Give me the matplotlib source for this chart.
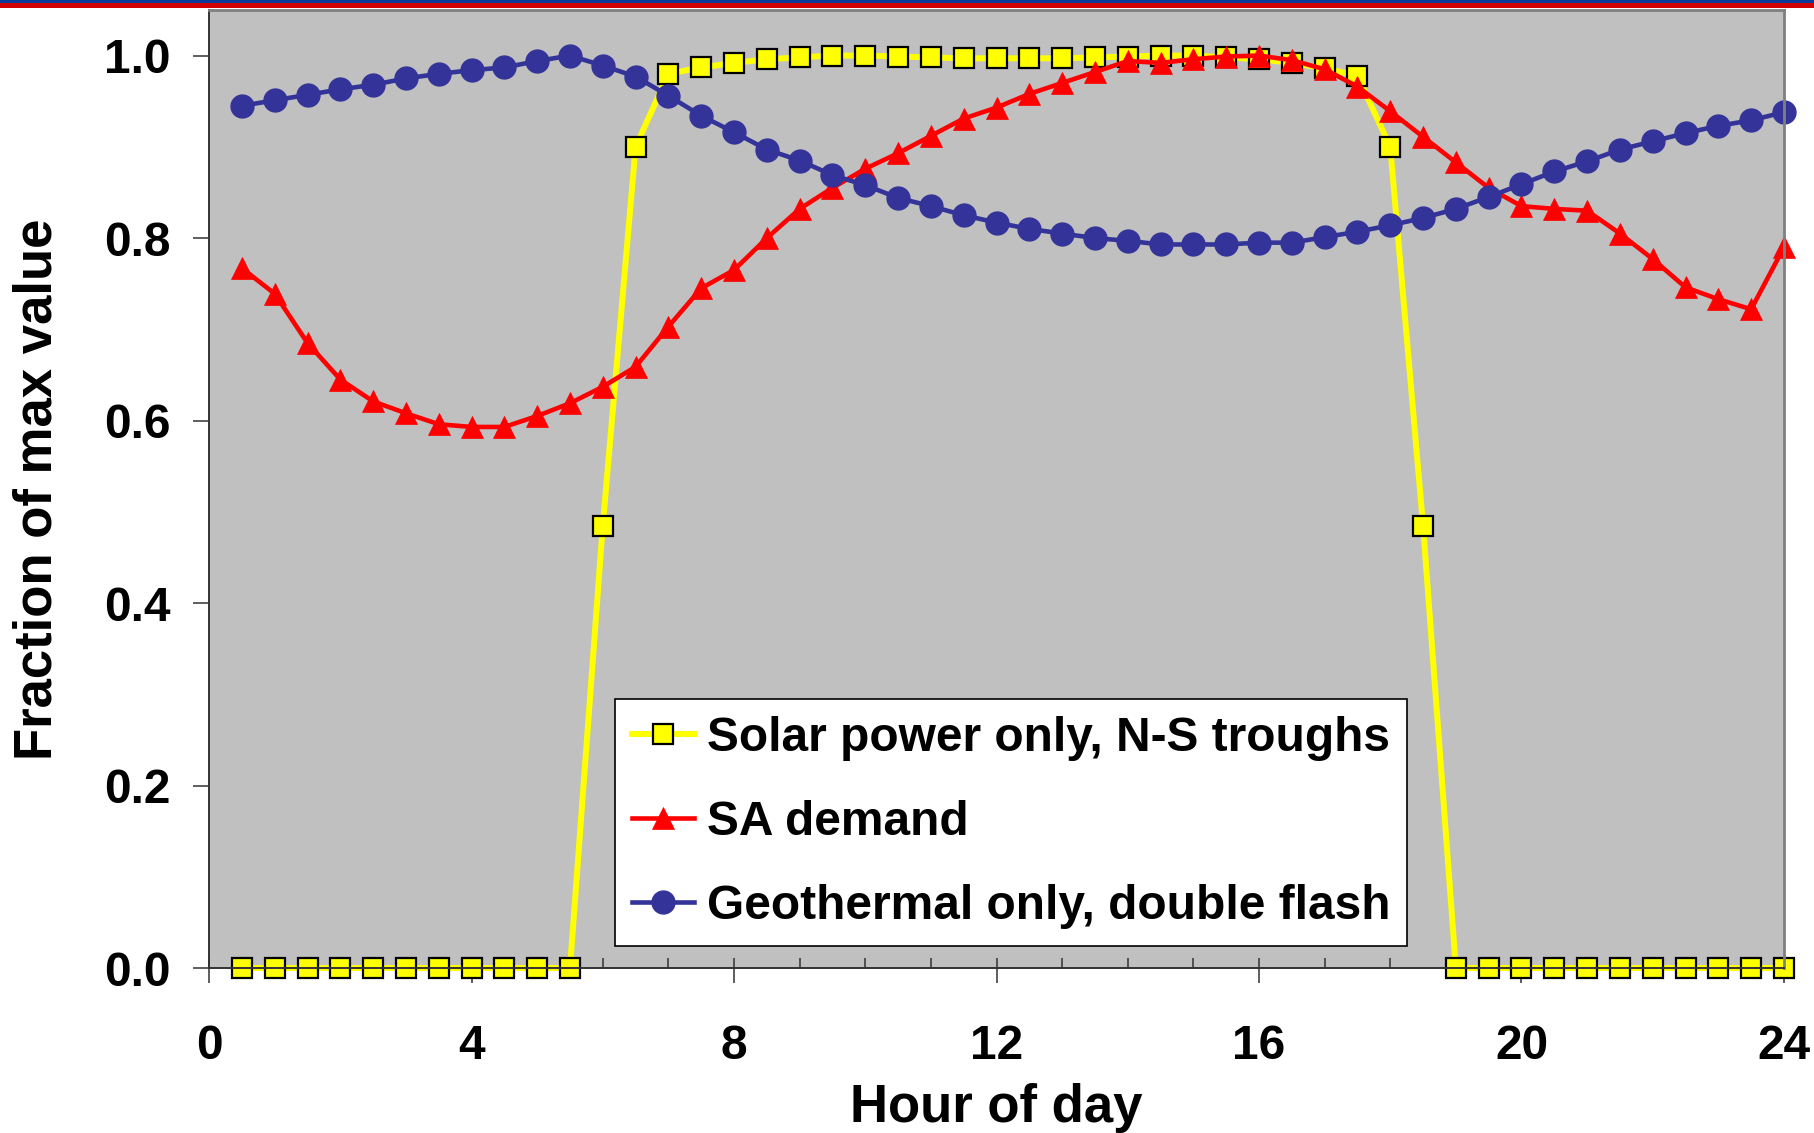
import matplotlib
matplotlib.use("Agg")
import matplotlib.pyplot as plt
from matplotlib.patches import Rectangle
from matplotlib.ticker import MultipleLocator, FormatStrFormatter

# half-hourly values, 0.5 .. 24.0
hours = [0.5 * (i + 1) for i in range(48)]

solar = [0, 0, 0, 0, 0, 0, 0, 0, 0, 0, 0,
         0.485, 0.90, 0.980, 0.987, 0.992, 0.996, 0.998, 1.0, 1.0, 0.999,
         0.998, 0.997, 0.997, 0.997, 0.997, 0.998, 0.999, 1.0, 1.0, 0.998,
         0.996, 0.992, 0.986, 0.978, 0.90, 0.485,
         0, 0, 0, 0, 0, 0, 0, 0, 0, 0, 0]

demand = [0.767, 0.739, 0.685, 0.645, 0.621, 0.608, 0.596, 0.593, 0.593, 0.605,
          0.619, 0.637, 0.659, 0.703, 0.745, 0.765, 0.800, 0.832, 0.855, 0.876,
          0.893, 0.912, 0.931, 0.943, 0.958, 0.970, 0.982, 0.994, 0.992, 0.996,
          0.999, 1.000, 0.995, 0.985, 0.966, 0.939, 0.911, 0.883, 0.855, 0.835,
          0.832, 0.830, 0.805, 0.777, 0.746, 0.733, 0.722, 0.790]

geo = [0.945, 0.951, 0.957, 0.963, 0.968, 0.975, 0.980, 0.984, 0.987, 0.994,
       1.000, 0.989, 0.977, 0.956, 0.934, 0.916, 0.897, 0.885, 0.869, 0.858,
       0.844, 0.835, 0.825, 0.817, 0.810, 0.805, 0.800, 0.797, 0.793, 0.793,
       0.793, 0.795, 0.795, 0.801, 0.807, 0.814, 0.822, 0.832, 0.845, 0.859,
       0.873, 0.884, 0.897, 0.906, 0.915, 0.923, 0.929, 0.938]

labels = ["Solar power only, N-S troughs", "SA demand", "Geothermal only, double flash"]

plt.rcParams["font.family"] = ["Liberation Sans", "DejaVu Sans"]
plt.rcParams["font.weight"] = "bold"

fig = plt.figure(figsize=(18.15, 11.33), dpi=100)
ax = fig.add_axes([0.1152, 0.1456, 0.8677, 0.8456])
ax.set_facecolor("#C0C0C0")

# header bands
fig.add_artist(Rectangle((0, 1 - 3 / 1133), 1, 3 / 1133, transform=fig.transFigure,
                         color="#0A3A9A", lw=0))
fig.add_artist(Rectangle((0, 1 - 8 / 1133), 1, 5 / 1133, transform=fig.transFigure,
                         color="#D00000", lw=0))

ax.plot(hours, solar, color="#FFFF00", lw=4.3, marker="s", ms=15,
        mfc="#FFFF00", mec="black", mew=1.6, clip_on=False, label=labels[0])
ax.plot(hours, demand, color="#FF0000", lw=3.3, marker="^", ms=16.5,
        mfc="#FF0000", mec="#FF0000", mew=0.5, clip_on=False, label=labels[1])
ax.plot(hours, geo, color="#333399", lw=3.3, marker="o", ms=16.5,
        mfc="#333399", mec="#333399", clip_on=False, label=labels[2])

ax.set_xlim(0, 24)
ax.set_ylim(0, 1.05)
ax.xaxis.set_major_locator(MultipleLocator(4))
ax.xaxis.set_minor_locator(MultipleLocator(1))
ax.xaxis.remove_overlapping_locs = False
ax.yaxis.set_major_locator(MultipleLocator(0.2))
ax.yaxis.set_major_formatter(FormatStrFormatter("%.1f"))

ax.tick_params(axis="x", which="major", direction="out", length=11, width=1.1,
               color="#333333", pad=29, labelsize=34.5)
ax.tick_params(axis="x", which="minor", direction="in", length=7, width=1.1,
               color="#333333")
ax.tick_params(axis="y", which="major", direction="out", length=11.5, width=1.1,
               color="#333333", pad=16, labelsize=34.5)

for s in ["top", "right"]:
    ax.spines[s].set_color("#808080")
    ax.spines[s].set_linewidth(2)
for s in ["left", "bottom"]:
    ax.spines[s].set_color("#333333")
    ax.spines[s].set_linewidth(1.4)

ax.set_xlabel("Hour of day", fontsize=38, fontweight="bold")
ax.set_ylabel("Fraction of max value", fontsize=38, fontweight="bold")
ax.xaxis.set_label_coords(0.5, -0.120)
ax.yaxis.set_label_coords(-0.093, 0.5)

leg = ax.legend(loc="lower left", bbox_to_anchor=(0.2578, 0.023), borderaxespad=0,
                fontsize=34.5, frameon=True, fancybox=False, framealpha=1,
                edgecolor="black", handlelength=1.3, handletextpad=0.27,
                borderpad=0.35, labelspacing=0.82)
leg.get_frame().set_linewidth(1.2)

fig.savefig("out.png", dpi=100)
